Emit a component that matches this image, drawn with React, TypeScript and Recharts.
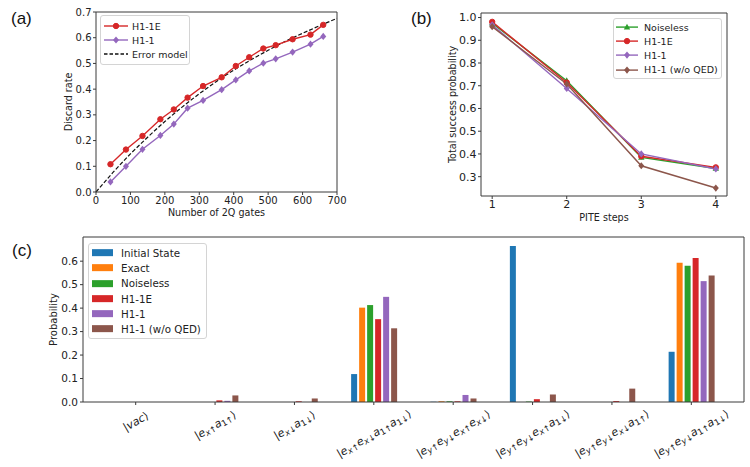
import React from 'react'
import { LineChart, Line, BarChart, Bar, XAxis, YAxis, Legend, Label } from 'recharts'

const FONT = '"DejaVu Sans", Verdana, sans-serif'
const INK = '#222'
const SPINE = '#3a3a3a'

const BLUE = '#1f77b4'
const ORANGE = '#ff7f0e'
const GREEN = '#2ca02c'
const RED = '#d62728'
const PURPLE = '#9467bd'
const BROWN = '#8c564b'

// (a) discard rate vs. number of 2Q gates
const GATE_COUNTS = [42, 87, 135, 187, 226, 266, 311, 365, 406, 445, 486, 522, 571, 623, 660]
const DISCARD_H11E = [0.108, 0.165, 0.218, 0.283, 0.321, 0.367, 0.412, 0.446, 0.49, 0.524, 0.558, 0.571, 0.594, 0.612, 0.65]
const DISCARD_H11 = [0.039, 0.1, 0.166, 0.22, 0.264, 0.326, 0.356, 0.398, 0.436, 0.471, 0.501, 0.518, 0.544, 0.575, 0.605]
const MODEL_GATES = [0, 50, 100, 150, 200, 250, 300, 350, 400, 450, 500, 550, 600, 650, 700]
const MODEL_DISCARD = [0, 0.077, 0.148, 0.213, 0.274, 0.33, 0.382, 0.43, 0.474, 0.514, 0.551, 0.586, 0.617, 0.647, 0.675]
const GATE_TICKS = [0, 100, 200, 300, 400, 500, 600, 700]
const DISCARD_TICKS = [0, 0.1, 0.2, 0.3, 0.4, 0.5, 0.6, 0.7]

// (b) total success probability vs. PITE steps
const PITE_STEPS = [1, 2, 3, 4]
const SUCCESS_NOISELESS = [0.975, 0.722, 0.385, 0.336]
const SUCCESS_H11E = [0.981, 0.714, 0.39, 0.341]
const SUCCESS_H11 = [0.968, 0.688, 0.4, 0.334]
const SUCCESS_NO_QED = [0.96, 0.708, 0.348, 0.25]
const SUCCESS_TICKS = [0.3, 0.4, 0.5, 0.6, 0.7, 0.8, 0.9, 1.0]

// (c) probability per state
const STATES = [
  '|vac⟩',
  '|e_x↑ a_1↑⟩',
  '|e_x↓ a_1↓⟩',
  '|e_x↑ e_x↓ a_1↑ a_1↓⟩',
  '|e_y↑ e_y↓ e_x↑ e_x↓⟩',
  '|e_y↑ e_y↓ e_x↑ a_1↓⟩',
  '|e_y↑ e_y↓ e_x↓ a_1↑⟩',
  '|e_y↑ e_y↓ a_1↑ a_1↓⟩',
]
const P_INITIAL = [0, 0, 0, 0.119, 0.001, 0.665, 0, 0.214]
const P_EXACT = [0, 0, 0, 0.402, 0.003, 0, 0, 0.593]
const P_NOISELESS = [0, 0, 0, 0.413, 0.003, 0.002, 0, 0.58]
const P_H11E = [0, 0.007, 0.003, 0.353, 0.003, 0.012, 0.004, 0.614]
const P_H11 = [0, 0.005, 0, 0.448, 0.03, 0, 0, 0.515]
const P_NO_QED = [0, 0.028, 0.015, 0.314, 0.015, 0.032, 0.057, 0.539]
const PROB_TICKS = [0, 0.1, 0.2, 0.3, 0.4, 0.5, 0.6]

const discardRows = GATE_COUNTS.map((x, i) => ({ x, e: DISCARD_H11E[i], h: DISCARD_H11[i] }))
const modelRows = MODEL_GATES.map((x, i) => ({ x, m: MODEL_DISCARD[i] }))
const successRows = PITE_STEPS.map((x, i) => ({
  x,
  noiseless: SUCCESS_NOISELESS[i],
  h11e: SUCCESS_H11E[i],
  h11: SUCCESS_H11[i],
  noqed: SUCCESS_NO_QED[i],
}))

const BAR_SERIES = [
  { key: 'initial', label: 'Initial State', color: BLUE, values: P_INITIAL },
  { key: 'exact', label: 'Exact', color: ORANGE, values: P_EXACT },
  { key: 'noiseless', label: 'Noiseless', color: GREEN, values: P_NOISELESS },
  { key: 'h11e', label: 'H1-1E', color: RED, values: P_H11E },
  { key: 'h11', label: 'H1-1', color: PURPLE, values: P_H11 },
  { key: 'noqed', label: 'H1-1 (w/o QED)', color: BROWN, values: P_NO_QED },
]
const barRows = STATES.map((name, i) => {
  const row: any = { name }
  BAR_SERIES.forEach(s => { row[s.key] = s.values[i] })
  return row
})

type Marker = 'circle' | 'diamond' | 'triangle'

function markerShape(kind: Marker, cx: number, cy: number, color: string, key?: any) {
  if (kind === 'circle') return <circle key={key} cx={cx} cy={cy} r={2.7} fill={color} stroke={color} />
  if (kind === 'diamond')
    return <path key={key} d={`M${cx},${cy - 3.6}L${cx + 3},${cy}L${cx},${cy + 3.6}L${cx - 3},${cy}Z`} fill={color} />
  return <path key={key} d={`M${cx},${cy - 3.4}L${cx + 3.2},${cy + 2.3}L${cx - 3.2},${cy + 2.3}Z`} fill={color} />
}

const dotOf = (kind: Marker, color: string) => (p: any) => markerShape(kind, p.cx, p.cy, color, p.index)

type LegendItem = { label: string; color: string; marker?: Marker; dashed?: boolean; patch?: boolean }

function LegendBox({ items, rowH, fontSize, sampleW, gap, pad }: { items: LegendItem[]; rowH: number; fontSize: number; sampleW: number; gap: number; pad: string }) {
  return (
    <div
      style={{
        border: '1px solid #d4d4d4',
        borderRadius: 3,
        background: 'rgba(255,255,255,0.85)',
        padding: pad,
        fontFamily: FONT,
        fontSize,
        color: INK,
      }}
    >
      {items.map(it => (
        <div key={it.label} style={{ display: 'flex', alignItems: 'center', height: rowH, whiteSpace: 'nowrap' }}>
          <svg width={sampleW} height={rowH} style={{ marginRight: gap, flex: 'none' }}>
            {it.patch ? (
              <rect x={0} y={rowH / 2 - 3.5} width={sampleW} height={7} fill={it.color} />
            ) : (
              <>
                <line
                  x1={0}
                  x2={sampleW}
                  y1={rowH / 2}
                  y2={rowH / 2}
                  stroke={it.color}
                  strokeWidth={1.4}
                  strokeDasharray={it.dashed ? '3.5 2' : undefined}
                />
                {it.marker && markerShape(it.marker, sampleW / 2, rowH / 2, it.color)}
              </>
            )}
          </svg>
          <span>{it.label}</span>
        </div>
      ))}
    </div>
  )
}

const xTitle = (text: string, dy: number, fs: number) => (props: any) => {
  const vb = props.viewBox
  return (
    <text x={vb.x + vb.width / 2} y={vb.y + dy} textAnchor="middle" dominantBaseline="central" fontSize={fs} fill={INK}>
      {text}
    </text>
  )
}

const yTitle = (text: string, xPos: number, fs: number) => (props: any) => {
  const vb = props.viewBox
  const cy = vb.y + vb.height / 2
  const cx = vb.x + xPos
  return (
    <text x={cx} y={cy} textAnchor="middle" dominantBaseline="central" fontSize={fs} fill={INK} transform={`rotate(-90, ${cx}, ${cy})`}>
      {text}
    </text>
  )
}

function KetTick(props: any) {
  const { x, y, payload } = props
  const label: string = payload.value
  const fs = 11
  const subFs = 8.4
  const shift = 3
  const terms = label.slice(1, -1).split(' ')
  const spans: React.ReactNode[] = [<tspan key="open">|</tspan>]
  let w = fs * 0.75
  let low = false
  terms.forEach((term, i) => {
    const [base, sub] = term.split('_')
    spans.push(
      <tspan key={'b' + i} dy={low ? -shift : 0} fontStyle="italic">
        {base}
      </tspan>
    )
    low = false
    w += base.length * fs * 0.6
    if (sub) {
      spans.push(
        <tspan key={'s' + i} dy={shift} fontSize={subFs} fontStyle={/[a-z]/.test(sub[0]) ? 'italic' : 'normal'}>
          {sub[0]}
        </tspan>
      )
      spans.push(
        <tspan key={'a' + i} fontSize={subFs}>
          {sub.slice(1)}
        </tspan>
      )
      w += sub.length * subFs * 0.62
      low = true
    }
  })
  spans.push(
    <tspan key="close" dy={low ? -shift : 0}>
      ⟩
    </tspan>
  )
  const a = (30 * Math.PI) / 180
  const boxH = w * Math.sin(a) + fs * 1.1 * Math.cos(a)
  const cy = y + boxH / 2
  return (
    <text x={x} y={cy} textAnchor="middle" dominantBaseline="central" fontSize={fs} fill={INK} transform={`rotate(-30, ${x}, ${cy})`}>
      {spans}
    </text>
  )
}

const panelLabel = (text: string, left: number, top: number) => (
  <div style={{ position: 'absolute', left, top, fontFamily: '"Liberation Sans", Arial, sans-serif', fontSize: 17, color: '#111' }}>{text}</div>
)

export default function App() {
  const fmt1 = (v: number) => v.toFixed(1)
  return (
    <div style={{ position: 'absolute', left: 0, top: 0, width: 750, height: 467, background: '#fff', fontFamily: FONT, overflow: 'hidden' }}>
      {panelLabel('(a)', 11, 9)}
      {panelLabel('(b)', 411, 9)}
      {panelLabel('(c)', 12, 241)}

      <div style={{ position: 'absolute', left: 0, top: 0 }}>
        <LineChart width={360} height={228} margin={{ top: 11, right: 22, left: 0, bottom: 0 }}>
          <XAxis
            type="number"
            dataKey="x"
            domain={[0, 700]}
            ticks={GATE_TICKS}
            allowDuplicatedCategory={false}
            height={36}
            stroke={SPINE}
            tickSize={3}
            tickMargin={1.5}
            tick={{ fill: INK, fontSize: 10 }}
          >
            <Label content={xTitle('Number of 2Q gates', 20, 9.6)} />
          </XAxis>
          <XAxis xAxisId="top" orientation="top" type="number" domain={[0, 700]} height={1} tick={false} tickLine={false} stroke={SPINE} />
          <YAxis
            type="number"
            domain={[0, 0.7]}
            ticks={DISCARD_TICKS}
            tickFormatter={fmt1}
            width={96}
            stroke={SPINE}
            tickSize={3}
            tickMargin={1.5}
            tick={{ fill: INK, fontSize: 10 }}
          >
            <Label content={yTitle('Discard rate', 68, 9.6)} />
          </YAxis>
          <YAxis yAxisId="right" orientation="right" type="number" domain={[0, 1]} width={1} tick={false} tickLine={false} stroke={SPINE} />
          <Legend
            layout="vertical"
            align="center"
            verticalAlign="middle"
            wrapperStyle={{ left: 100, top: 15, width: 90 }}
            content={() => (
              <LegendBox
                rowH={14}
                fontSize={9.5}
                sampleW={24}
                gap={4}
                pad="3px 3px"
                items={[
                  { label: 'H1-1E', color: RED, marker: 'circle' },
                  { label: 'H1-1', color: PURPLE, marker: 'diamond' },
                  { label: 'Error model', color: '#111', dashed: true },
                ]}
              />
            )}
          />
          <Line data={modelRows} dataKey="m" type="monotone" stroke="#111" strokeWidth={1.2} strokeDasharray="4 2" dot={false} isAnimationActive={false} />
          <Line data={discardRows} dataKey="e" stroke={RED} strokeWidth={1.4} dot={dotOf('circle', RED)} isAnimationActive={false} />
          <Line data={discardRows} dataKey="h" stroke={PURPLE} strokeWidth={1.4} dot={dotOf('diamond', PURPLE)} isAnimationActive={false} />
        </LineChart>
      </div>

      <div style={{ position: 'absolute', left: 380, top: 0 }}>
        <LineChart width={370} height={228} data={successRows} margin={{ top: 12, right: 22, left: 0, bottom: 0 }}>
          <XAxis
            type="number"
            dataKey="x"
            domain={[0.85, 4.15]}
            ticks={PITE_STEPS}
            height={32}
            stroke={SPINE}
            tickSize={3}
            tickMargin={1}
            tick={{ fill: INK, fontSize: 11 }}
          >
            <Label content={xTitle('PITE steps', 21, 9.6)} />
          </XAxis>
          <XAxis xAxisId="top" orientation="top" type="number" domain={[0.85, 4.15]} height={1} tick={false} tickLine={false} stroke={SPINE} />
          <YAxis
            type="number"
            domain={[0.215, 1.02]}
            ticks={SUCCESS_TICKS}
            tickFormatter={fmt1}
            width={101}
            stroke={SPINE}
            tickSize={3}
            tickMargin={1.5}
            tick={{ fill: INK, fontSize: 11 }}
          >
            <Label content={yTitle('Total success probability', 72, 9.6)} />
          </YAxis>
          <YAxis yAxisId="right" orientation="right" type="number" domain={[0, 1]} width={1} tick={false} tickLine={false} stroke={SPINE} />
          <Legend
            layout="vertical"
            align="center"
            verticalAlign="middle"
            wrapperStyle={{ left: 233, top: 18, width: 109 }}
            content={() => (
              <LegendBox
                rowH={14.2}
                fontSize={9.5}
                sampleW={22}
                gap={6}
                pad="1px 2px"
                items={[
                  { label: 'Noiseless', color: GREEN, marker: 'triangle' },
                  { label: 'H1-1E', color: RED, marker: 'circle' },
                  { label: 'H1-1', color: PURPLE, marker: 'diamond' },
                  { label: 'H1-1 (w/o QED)', color: BROWN, marker: 'diamond' },
                ]}
              />
            )}
          />
          <Line dataKey="noiseless" stroke={GREEN} strokeWidth={1.4} dot={dotOf('triangle', GREEN)} isAnimationActive={false} />
          <Line dataKey="h11e" stroke={RED} strokeWidth={1.4} dot={dotOf('circle', RED)} isAnimationActive={false} />
          <Line dataKey="h11" stroke={PURPLE} strokeWidth={1.4} dot={dotOf('diamond', PURPLE)} isAnimationActive={false} />
          <Line dataKey="noqed" stroke={BROWN} strokeWidth={1.4} dot={dotOf('diamond', BROWN)} isAnimationActive={false} />
        </LineChart>
      </div>

      <div style={{ position: 'absolute', left: 0, top: 230 }}>
        <BarChart width={750} height={237} data={barRows} margin={{ top: 6, right: 5, left: 0, bottom: 0 }} barGap={2}>
          <XAxis
            dataKey="name"
            interval={0}
            height={65}
            padding={{ left: 13, right: 13 }}
            stroke={SPINE}
            tickSize={3}
            tickMargin={4}
            tick={<KetTick />}
          />
          <XAxis xAxisId="top" orientation="top" dataKey="name" padding={{ left: 13, right: 13 }} height={1} tick={false} tickLine={false} stroke={SPINE} />
          <YAxis
            type="number"
            domain={[0, 0.703]}
            ticks={PROB_TICKS}
            tickFormatter={fmt1}
            width={83}
            stroke={SPINE}
            tickSize={3}
            tickMargin={2}
            tick={{ fill: INK, fontSize: 10.5 }}
          >
            <Label content={yTitle('Probability', 53, 10)} />
          </YAxis>
          <YAxis yAxisId="right" orientation="right" type="number" domain={[0, 1]} width={1} tick={false} tickLine={false} stroke={SPINE} />
          <Legend
            layout="vertical"
            align="center"
            verticalAlign="middle"
            wrapperStyle={{ left: 88, top: 13, width: 119 }}
            content={() => (
              <LegendBox
                rowH={15.3}
                fontSize={10.3}
                sampleW={21}
                gap={8}
                pad="1px 3px"
                items={BAR_SERIES.map(s => ({ label: s.label, color: s.color, patch: true }))}
              />
            )}
          />
          {BAR_SERIES.map(s => (
            <Bar key={s.key} dataKey={s.key} fill={s.color} barSize={6} isAnimationActive={false} />
          ))}
        </BarChart>
      </div>
    </div>
  )
}
